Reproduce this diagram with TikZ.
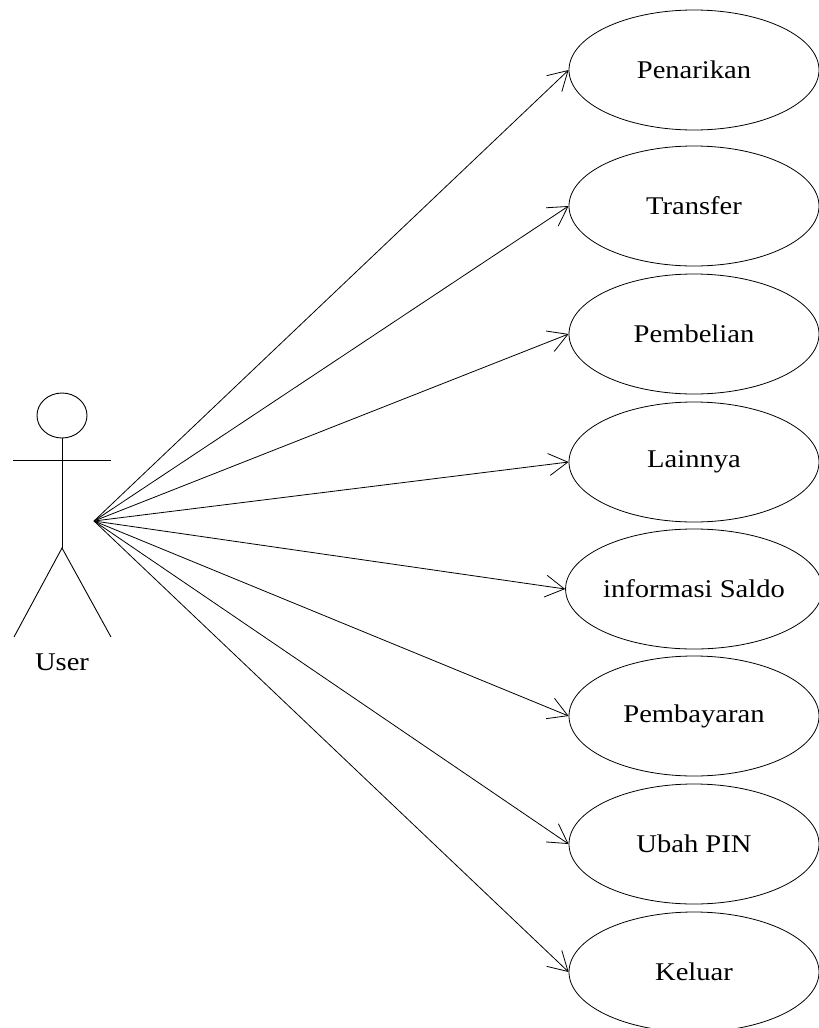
\documentclass[tikz,border=0pt]{standalone}
\usepackage{fontspec}
\setmainfont{Liberation Serif}[FakeStretch=1.12]
\usetikzlibrary{shapes.geometric,arrows.meta}
\begin{document}
\begin{tikzpicture}[x=1pt,y=-1pt,
  usecase/.style={draw,ellipse,minimum width=250pt,minimum height=120pt,inner sep=0pt,line width=0.8pt,font=\fontsize{25.5}{28}\selectfont},
  assoc/.style={line width=0.8pt,-{Straight Barb[length=19pt,width=22pt,line width=0.8pt]}},
  limb/.style={line width=0.9pt}]
\useasboundingbox (0,0) rectangle (819,1028);
% actor
\node[draw,ellipse,minimum width=50pt,minimum height=45pt,inner sep=0pt,line width=0.9pt] (head) at (62,415.5) {};
\coordinate (neck) at (62,438);
\coordinate (hip) at (62,548);
\coordinate (larm) at (13,460);
\coordinate (rarm) at (111,460);
\coordinate (lfoot) at (14,637);
\coordinate (rfoot) at (111,637);
\coordinate (user) at (94,521);
\draw[limb] (head.south) -- (hip);
\draw[limb] (larm) -- (rarm);
\draw[limb] (lfoot) -- (hip) -- (rfoot);
\node[font=\fontsize{25.5}{28}\selectfont] (userlabel) at (62,662) {User};
% use cases
\node[usecase] (u1) at (694,70) {Penarikan};
\node[usecase] (u2) at (694,206) {Transfer};
\node[usecase] (u3) at (694,334) {Pembelian};
\node[usecase] (u4) at (694,462) {Lainnya};
\node[usecase] (u5) at (694,589) {informasi Saldo};
\node[usecase] (u6) at (694,716) {Pembayaran};
\node[usecase] (u7) at (694,844) {Ubah PIN};
\node[usecase] (u8) at (694,972) {Keluar};
\foreach \u in {u1,u2,u3,u4,u5,u6,u7,u8}
  \draw[assoc] (user) -- (\u.west);
\end{tikzpicture}
\end{document}
